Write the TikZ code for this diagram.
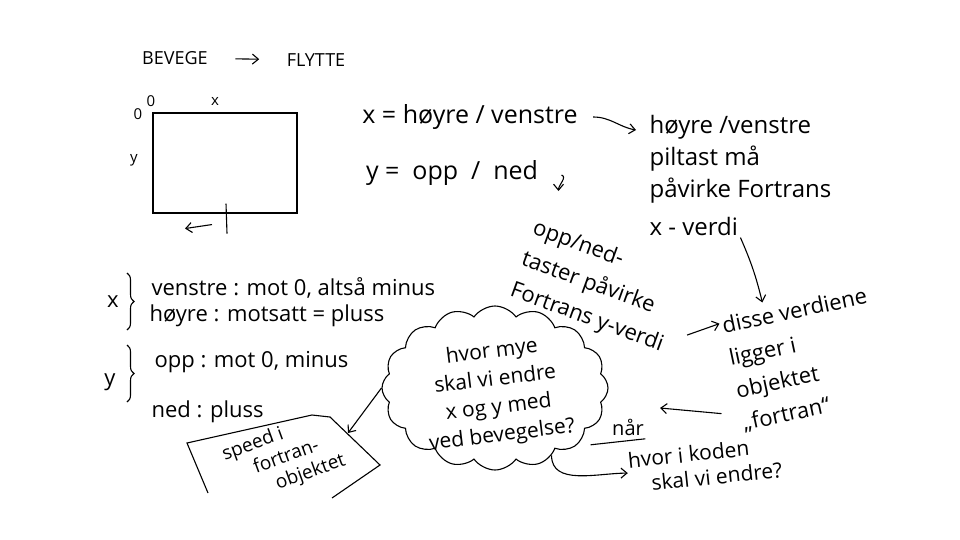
\documentclass[tikz,border=0pt]{standalone}
\usepackage{fontspec}
\setmainfont{Open Sans}
\usetikzlibrary{positioning,calc,decorations.pathreplacing,shapes.symbols,arrows.meta}
\tikzset{>={Straight Barb[length=6pt,width=10pt]}}

\begin{document}
\begin{tikzpicture}[x=1pt,y=-1pt,line width=1.1pt,
                    hand/.style={font=\fontsize{22}{33}\selectfont,inner sep=1pt},
                    note/.style={font=\fontsize{18}{25}\selectfont,inner sep=1pt},
                    small/.style={font=\fontsize{15}{20}\selectfont,inner sep=1pt},
                    bracket/.style={decorate,decoration={brace,amplitude=7pt}},
       ]
       \useasboundingbox (0,0) rectangle (960,540);
       % overskrift
       \node[note] (bevege) at (175,58) {BEVEGE};
       \node[note] (flytte) at (316,60) {FLYTTE};
       \draw[->,shorten <=26pt,shorten >=26pt] (bevege) -- (flytte);
       % skjermen
       \node[draw,minimum width=144pt,minimum height=100pt] (screen) at (225,163) {};
       \node[small] (origo) at (151,101) {0};
       \node[small] (origo2) at (138,114) {0};
       \node[small] (xaxis) at (215,101) {x};
       \node[small] (yaxis) at (134,160) {y};
       \draw ($(screen.south)+(1,-10)$) -- ($(screen.south)+(2,20)$);
       \draw[->] ($(screen.south)+(-13,11)$) -- ($(screen.south)+(-40,15)$);
       % x og y
       \node[hand,font=\fontsize{25}{33}\selectfont] (xeq) at (470,117) {x = høyre / venstre};
       \node[hand,font=\fontsize{25}{33}\selectfont] (yeq) at (452,173) {y =\ \ opp\ \ /\ \ ned};
       \node[hand,font=\fontsize{24}{32}\selectfont,align=left,anchor=north west] (hv) at (648,114) {høyre /venstre\\piltast må\\påvirke Fortrans\\[6pt]x - verdi};
       \draw[->] ($(xeq.east)+(14,0)$) to[out=0,in=170] ($(hv.north west)+(-12,16)$);
       \draw[->] ($(yeq.east)+(22,2)$) to[out=-20,in=90] ++(-3,16);
       \node[hand,align=left,rotate=-20] (oppned) at (598,287) {opp/ned-\\taster påvirke\\Fortrans y-verdi};
       \node[hand,align=left,rotate=12] (disse) at (805,360) {disse verdiene\\ligger i\\objektet\\„fortran“};
       \draw[->] (hv.south) to[bend left=5] ($(disse.north)+(-30,2)$);
       \draw[->] ($(oppned.east)+(12,20)$) -- ($(disse.west)+(-12,-52)$);
       \coordinate (mot) at (660,408);
       \draw[->] ($(disse.west)+(-10,38)$) -- (mot);
       % retninger
       \node[hand] (xvar) at (113,302) {x};
       \draw[bracket] (127,273) -- (127,330);
       \node[hand,anchor=west] (venstre) at (150,288) {venstre : mot 0, altså minus};
       \node[hand,anchor=west] (hoyre) at (148,316) {høyre : motsatt = pluss};
       \node[hand] (yvar) at (110,382) {y};
       \draw[bracket] (127,345) -- (127,402);
       \node[hand,anchor=west] (opp) at (153,362) {opp : mot 0, minus};
       \node[hand,anchor=west] (ned) at (150,412) {ned : pluss};
       % tankesky
       \node[cloud,draw,cloud puffs=16,cloud puff arc=110,aspect=1.4,minimum width=226pt,minimum height=164pt,inner sep=0pt] (think) at (495,388) {};
       \node[hand,font=\fontsize{21}{28}\selectfont,align=center,rotate=7] (thinktext) at (497,394) {hvor mye\\skal vi endre\\x og y med\\ved bevegelse?};
       % speed-boksen
       \draw (208,493) -- (187,443) -- (312,415) -- (330,417) -- (380,465) -- (332,498);
       \coordinate (boxne) at (348,433);
       \node[note,font=\fontsize{19}{23}\selectfont,align=left,rotate=20] (speed) at (284,458) {speed i\\\hspace*{1.3em}fortran-\\\hspace*{2.1em}objektet};
       \draw[->] (think.west) -- (boxne);
       % når
       \node[note,font=\fontsize{20}{24}\selectfont] (naar) at (628,427) {når};
       \draw ($(naar.south west)+(-20,8)$) -- ($(naar.south east)+(0,2)$);
       \node[note,font=\fontsize{21}{25}\selectfont,align=left,rotate=6] (koden) at (705,465) {hvor i koden\\\hspace*{1em}skal vi endre?};
       \draw[->] (think.-50) to[out=-90,in=180] (koden.west);
\end{tikzpicture}
\end{document}
